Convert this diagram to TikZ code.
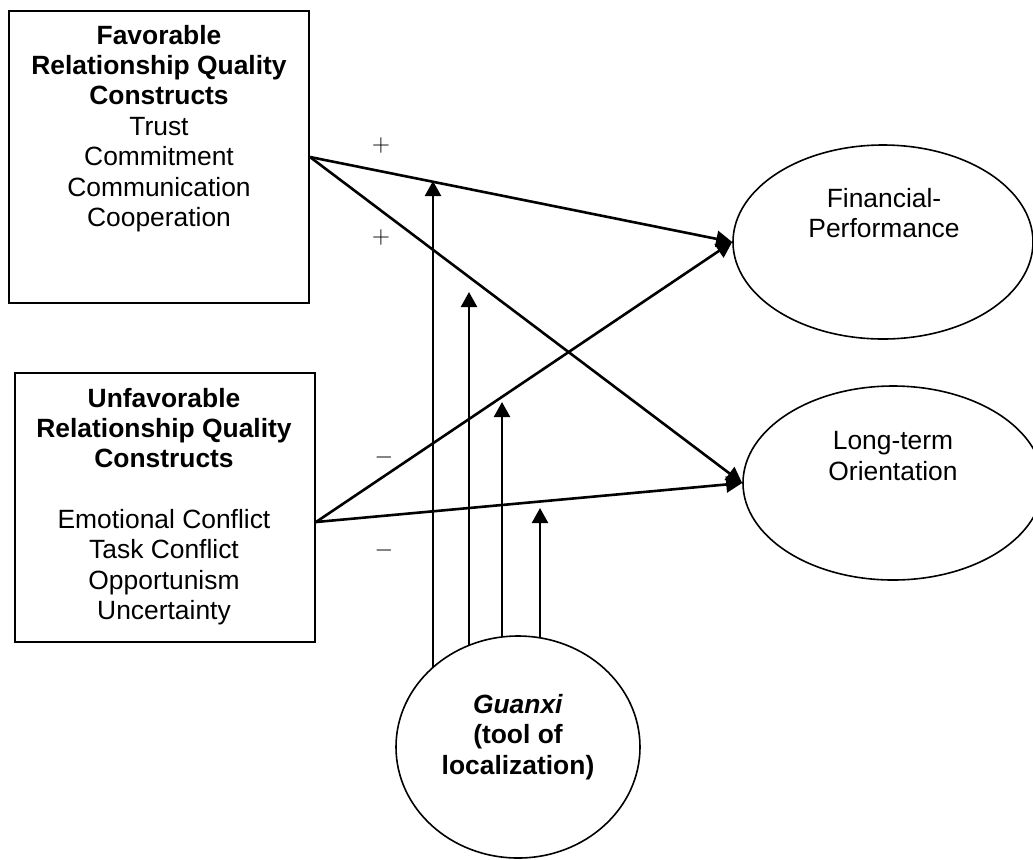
\documentclass[tikz,border=0pt]{standalone}
\usepackage{fontspec}
\setmainfont{Liberation Sans}
\usetikzlibrary{arrows.meta,shapes.geometric}

\begin{document}
\begin{tikzpicture}
[   x=0.5pt, y=-0.5pt,
    construct/.style={rectangle, draw, line width=1pt, minimum width=150pt, inner sep=0},
    outcome/.style={ellipse, draw, line width=0.8pt, minimum width=150pt, minimum height=97pt, inner sep=0},
    boxtext/.style={align=center, inner sep=0, font=\fontsize{13.2}{15.2}\selectfont},
    sign/.style={inner sep=0, font=\fontsize{13.2}{15}\selectfont},
    effect/.style={-{Triangle[length=8pt,width=8pt]}, line width=1.3pt},
    moderate/.style={-{Triangle[length=7.5pt,width=8pt]}, line width=1.2pt}
]
    \useasboundingbox (0,0) rectangle (1033,859);

    % relationship quality constructs
    \node[construct, minimum height=146pt] (fav) at (159,157) {};
    \node[boxtext] (favtext) at (159,128.5)
        {\textbf{Favorable}\\ \textbf{Relationship Quality}\\ \textbf{Constructs}\\
         Trust\\ Commitment\\ Communication\\ Cooperation};
    \node[construct, minimum height=134.5pt] (unfav) at (165,507.5) {};
    \node[boxtext] (unfavtext) at (164,506.5)
        {\textbf{Unfavorable}\\ \textbf{Relationship Quality}\\ \textbf{Constructs}\\[15pt]
         Emotional Conflict\\ Task Conflict\\ Opportunism\\ Uncertainty};

    % outcomes
    \node[outcome] (fin) at (883,242) {};
    \node[boxtext] (fintext) at (884,213) {Financial-\\Performance};
    \node[outcome] (lto) at (893,483) {};
    \node[boxtext] (ltotext) at (893,456) {Long-term\\Orientation};

    % moderator
    \node[outcome, minimum width=122pt, minimum height=111pt] (gx) at (518,747) {};
    \node[boxtext] (gxtext) at (518,737)
        {\textbf{\textit{Guanxi}}\\ \textbf{(tool of}\\ \textbf{localization)}};

    % direct effects
    \coordinate (unfavout) at ([yshift=-7.25pt]unfav.east);
    \draw[effect] (fav.east) -- (fin.west);
    \draw[effect] (fav.east) -- (lto.west);
    \draw[effect] (unfavout) -- (fin.west);
    \draw[effect] (unfavout) -- (lto.west);

    \node[sign] (plus1) at (381,145) {$+$};
    \node[sign] (plus2) at (381,237) {$+$};
    \node[sign] (minus1) at (384,457) {$-$};
    \node[sign] (minus2) at (384,550) {$-$};

    % moderating effects
    \foreach \x/\ytip [count=\i] in {433/181, 469/292, 502/402, 540/508}
    {   \pgfmathsetmacro{\ybase}{747-111*sqrt(1-((\x-518)/122)^2)}
        \coordinate (gx\i) at (\x,\ybase);
        \coordinate (tip\i) at (\x,\ytip);
        \draw[moderate] (gx\i) -- (tip\i);
    }
\end{tikzpicture}
\end{document}
